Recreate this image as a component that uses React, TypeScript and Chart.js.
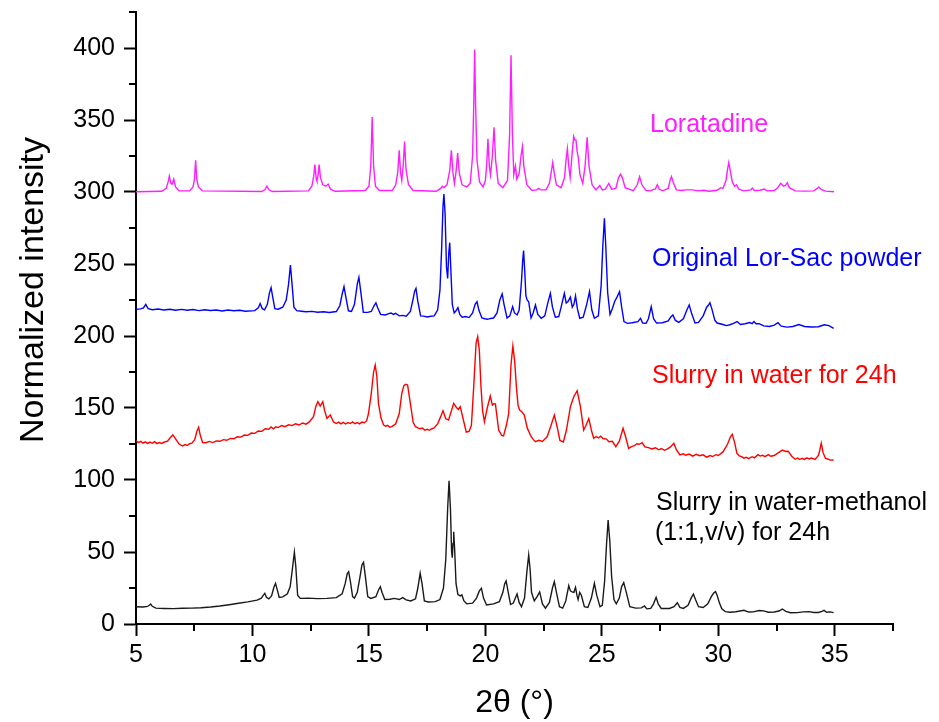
import React, { useEffect, useRef } from 'react';
import { Chart, registerables } from 'chart.js';

Chart.register(...registerables);

// 2θ (°), normalized intensity (offset patterns)
const loratadine: [number, number][] = [
  [5.0,300.2],[6.1,300.5],[6.3,302.5],[6.38,307],[6.43,311],[6.5,306],[6.55,305.5],[6.62,309],[6.7,303.5],[6.85,300.8],
  [7.3,300.8],[7.45,303.5],[7.51,309],[7.56,322],[7.61,309],[7.68,303.5],[7.85,300.8],
  [10.4,300.3],[10.53,301.5],[10.62,304],[10.71,301.5],[10.85,300.3],
  [12.4,300.8],[12.55,304],[12.63,311],[12.68,319],[12.74,309],[12.77,307.5],[12.82,312],[12.86,319],[12.92,310],[13.02,305],[13.15,304],[13.25,305.5],[13.35,302],[13.55,300.5],
  [14.85,301],[15.0,304],[15.08,318],[15.14,352],[15.2,318],[15.28,304],[15.45,301],
  [16.0,301],[16.15,305],[16.24,314],[16.3,329],[16.36,313],[16.41,308],[16.47,318],[16.53,335],[16.59,316],[16.7,305],[16.9,301],
  [17.9,300.5],[18.08,302.5],[18.15,304],[18.22,303],[18.35,305],[18.47,315],[18.54,329],[18.61,313],[18.67,306],[18.74,314],[18.81,327],[18.88,313],[19.0,305],[19.2,303.5],
  [19.35,306],[19.45,325],[19.5,360],[19.54,399],[19.58,360],[19.64,322],[19.75,307],[19.9,303.5],[20.0,308],[20.06,320],[20.11,337],[20.17,318],[20.22,312],[20.3,325],[20.37,345],[20.44,322],[20.55,306],
  [20.75,303],[20.95,308],[21.04,340],[21.1,395],[21.16,340],[21.22,312],[21.29,318],[21.35,309],[21.45,313],[21.53,325],[21.59,331.5],[21.65,318],[21.78,305],[22.0,301],
  [22.2,301.5],[22.29,302.5],[22.38,301.5],[22.6,301.5],[22.75,306],[22.83,314],[22.89,320.5],[22.95,314],[23.05,305],[23.25,303],
  [23.4,310],[23.46,322],[23.52,330],[23.58,318],[23.64,310],[23.72,326],[23.79,338.5],[23.84,336],[23.89,336],[23.94,328],[23.99,324],[24.06,312],[24.18,306],[24.28,318],[24.37,338],[24.45,318],[24.58,305],
  [24.75,301.5],[24.91,304.5],[25.02,301.5],[25.15,302],[25.3,306],[25.42,302],[25.6,302.5],[25.72,310],[25.8,312.3],[25.88,310],[26.0,303],
  [26.35,301],[26.52,305],[26.62,310.6],[26.72,305],[26.9,301],[27.1,300.8],[27.2,301.8],[27.3,302],[27.38,305],[27.46,302],[27.6,300.8],
  [27.85,302.5],[27.93,308],[27.99,310.6],[28.06,307],[28.2,301.5],[28.45,301],[28.6,301.5],[28.9,301.5],[29.1,300.8],[29.38,301.2],[29.6,300.5],
  [29.95,301.2],[30.1,303],[30.2,302.5],[30.33,308],[30.4,316],[30.45,320.4],[30.51,315],[30.6,307],[30.7,304],[30.78,305],[30.88,302],[31.1,300.8],
  [31.4,301.5],[31.46,302.7],[31.55,301],[31.8,301.2],[31.96,302],[32.1,300.8],[32.4,301],[32.55,303],[32.68,306],[32.8,304],[32.88,304.5],[32.96,306.5],[33.05,303],
  [33.3,300.8],[33.7,300.6],[34.1,300.8],[34.25,302.5],[34.32,303.5],[34.4,302],[34.6,300.6],[34.97,300.2]
];

const lorSacPowder: [number, number][] = [
  [5.0,218.6],[5.2,218.8],[5.32,219.5],[5.42,222],[5.52,219],[5.7,218.2],[5.95,218.7],[6.2,218.1],[6.45,218.6],[6.7,217.9],[6.95,218.5],[7.2,217.9],[7.45,218.4],[7.7,217.6],[7.95,218.2],[8.2,217.7],[8.45,218.1],[8.7,217.4],[8.95,218],[9.2,217.5],[9.45,217.9],[9.7,217.2],
  [10.1,217.6],[10.25,219.5],[10.33,222.5],[10.42,219],[10.52,218.2],[10.64,222],[10.73,230],[10.8,233.6],[10.87,227],[10.96,219],[11.1,218.6],
  [11.3,220],[11.45,225],[11.55,236],[11.63,249.3],[11.7,236],[11.78,220],[11.9,217.6],[12.1,217.2],[12.3,216.8],[12.55,217.1],[12.8,216.5],[13.05,216.8],[13.3,216.3],
  [13.6,217],[13.75,221],[13.85,229],[13.93,234.3],[14.01,227],[14.12,217.5],[14.25,217],[14.38,222],[14.5,236],[14.57,240.7],[14.64,232],[14.76,216.5],[14.95,216.4],
  [15.1,217],[15.22,221],[15.3,223.1],[15.38,219.5],[15.5,215],[15.7,214.6],[15.85,215.5],[15.95,216],[16.05,215],[16.15,215.8],[16.3,214],[16.45,214.3],[16.6,213.7],
  [16.78,217],[16.9,226],[16.96,231],[17.02,233.1],[17.1,224],[17.22,214],[17.35,213.8],[17.5,213.2],[17.65,213.7],[17.8,214],
  [17.95,218],[18.05,232],[18.12,260],[18.18,290],[18.22,298.6],[18.27,285],[18.33,248],[18.38,240],[18.43,258],[18.47,264.8],[18.52,245],[18.58,222],[18.66,216],[18.74,217.5],[18.82,219.7],[18.9,215],[19.0,213],
  [19.15,213.5],[19.3,212.8],[19.45,216],[19.56,222],[19.64,223.8],[19.72,218],[19.85,212.5],[19.98,212],[20.1,211.6],[20.22,212.2],[20.35,212.5],[20.5,216],[20.62,225],[20.72,229.2],[20.8,222],[20.93,212.5],
  [21.05,214],[21.17,220.4],[21.25,216],[21.36,214.6],[21.45,218],[21.55,238],[21.6,252],[21.64,259.3],[21.69,245],[21.74,228],[21.79,225],[21.86,223.8],[21.96,212.5],
  [22.05,216],[22.15,221.5],[22.25,215],[22.4,212.3],[22.55,214],[22.68,223],[22.79,229.6],[22.88,220],[23.0,213],[23.15,213.5],[23.28,222],[23.39,229.6],[23.47,223],[23.55,224],[23.65,227],[23.73,220],[23.8,222],[23.87,227.8],[23.95,219],[24.05,212.3],
  [24.2,213],[24.35,222],[24.47,230.8],[24.57,218],[24.68,212.3],[24.85,214],[24.97,235],[25.04,262],[25.11,281.7],[25.17,262],[25.25,230],[25.35,215],[25.45,219],[25.55,224],[25.65,227],[25.76,230.8],[25.85,220],[25.95,210],
  [26.1,208.8],[26.3,209.2],[26.55,210],[26.66,212.3],[26.75,209],[26.9,208.8],[27.0,212],[27.12,220.4],[27.22,212],[27.35,209],[27.6,209.2],[27.85,210.5],[27.95,213],[28.05,214.6],[28.15,211],[28.3,209.5],
  [28.5,212],[28.65,218],[28.75,221.5],[28.85,216],[29.0,209],[29.15,209.5],[29.35,214],[29.5,220],[29.58,221.5],[29.64,223.1],[29.72,219],[29.85,211],[29.95,209],
  [30.2,208],[30.35,207.2],[30.5,207.8],[30.65,208.8],[30.81,210],[30.95,208],[31.15,208.5],[31.35,209.3],[31.45,208.6],[31.53,210],[31.62,208.5],[31.75,208.6],[31.95,207],[32.2,206.6],[32.4,207.6],[32.56,209.2],[32.7,206.8],
  [32.95,206.2],[33.2,206.6],[33.46,208],[33.7,206.6],[34.0,206.2],[34.3,206.4],[34.55,207.8],[34.75,207.2],[34.95,205.3]
];

const slurryWater: [number, number][] = [
  [5.0,127.3],[5.1,126.0],[5.2,126.8],[5.3,125.6],[5.4,126.5],[5.5,125.4],[5.6,126.3],[5.7,125.5],[5.8,126.6],[5.9,125.3],[6.0,126.0],[6.1,125.4],[6.2,126.2],[6.35,127],[6.48,129.5],[6.58,131.3],[6.7,128.5],[6.85,125],[7.0,123.6],[7.1,124.6],[7.2,124.0],[7.3,125.2],[7.4,125.6],
  [7.52,128],[7.62,134],[7.69,136.6],[7.76,131],[7.86,126],[8.0,125.9],[8.15,126.8],[8.3,126.0],[8.45,127.1],[8.6,126.9],[8.75,128.0],[8.9,127.6],[9.05,128.9],[9.2,128.6],[9.35,130.0],[9.5,129.8],[9.65,131.2],[9.8,131.0],[9.95,132.6],[10.1,132.4],[10.25,134.0],[10.4,133.8],[10.55,135.6],[10.7,135.2],[10.8,136.8],[10.9,135.6],
  [11.0,137.0],[11.1,136.4],[11.25,137.8],[11.4,137.0],[11.55,138.4],[11.7,137.8],[11.85,139.0],[12.0,138.2],[12.15,139.6],[12.3,138.8],[12.45,140.5],[12.62,144],[12.72,151],[12.81,154.4],[12.91,151.4],[13.02,154.4],[13.1,148],[13.2,142.8],[13.34,145.1],[13.48,140.3],
  [13.6,139.2],[13.7,140.2],[13.8,139.0],[13.9,140.0],[14.0,138.9],[14.1,139.9],[14.2,139.2],[14.3,140.3],[14.4,139.1],[14.5,139.9],[14.6,139.0],[14.7,140.2],[14.8,139.8],[14.9,141],[14.98,146],[15.1,160],[15.2,175],[15.27,179.9],[15.34,172],[15.41,153],[15.52,143],[15.63,138.2],[15.72,137.4],[15.8,138],[15.9,136.6],[16.0,137.2],
  [16.15,139],[16.3,146],[16.41,160],[16.5,165.5],[16.58,166.5],[16.66,166],[16.78,153],[16.9,140],[17.0,137],[17.1,136.2],[17.2,135.6],[17.3,136.1],[17.4,134.6],[17.5,135.2],[17.6,134.5],[17.7,135.6],[17.8,136.2],
  [17.95,139],[18.08,144],[18.18,148.1],[18.3,142.5],[18.42,141.7],[18.54,148],[18.64,153.2],[18.75,150.5],[18.84,149],[18.92,150.9],[19.05,142],[19.18,133.3],[19.3,133.8],
  [19.4,138],[19.5,165],[19.6,195],[19.67,199.5],[19.74,190],[19.81,165],[19.88,148],[19.96,140.5],[20.08,150],[20.21,158.3],[20.3,152],[20.36,153],[20.43,152.8],[20.57,134.7],[20.7,131],[20.78,130.6],
  [20.9,138],[21.0,146],[21.1,180],[21.18,193.1],[21.26,182],[21.33,165],[21.4,152],[21.47,148.6],[21.57,147.3],[21.67,145.1],[21.8,136],[21.95,130.6],[22.05,128.2],[22.15,126.6],[22.3,127.6],[22.45,126.8],
  [22.65,130],[22.8,137],[22.96,145.1],[23.08,137],[23.2,127.5],[23.35,126.4],[23.48,134.7],[23.65,150.9],[23.8,158],[23.94,162],[24.08,150.9],[24.22,134.7],[24.32,138],[24.44,142.6],[24.56,134],[24.65,129],
  [24.75,130.2],[24.85,129.2],[24.95,130.4],[25.05,128.8],[25.2,128.4],[25.3,126.6],[25.45,126.9],[25.6,123.1],[25.75,127],[25.91,135.9],[26.02,130],[26.15,122],[26.3,123.4],[26.4,123.8],[26.5,125.2],[26.6,124.8],[26.73,125.9],[26.85,123],[27.0,122.5],
  [27.15,121.6],[27.3,122.4],[27.45,121.0],[27.55,121.8],[27.7,120.6],[27.8,121.4],[27.95,123],[28.09,125.5],[28.2,121],[28.35,117.4],[28.5,118.2],[28.6,117.2],[28.75,118.0],[28.9,116.6],[29.05,117.8],[29.2,116.9],[29.35,117.5],[29.5,115.9],[29.65,117.0],[29.75,116.3],[29.9,117.6],[30.0,117.0],
  [30.2,119.5],[30.4,125],[30.52,130],[30.6,131.7],[30.7,126],[30.8,118.5],[30.9,116.8],[31.0,116.2],[31.1,115.2],[31.2,115.8],[31.3,114.8],[31.45,116.2],[31.55,115.4],[31.7,117.6],[31.8,116.6],[31.9,117.2],[32.0,116.2],[32.15,117.6],[32.25,116.5],[32.4,117.0],
  [32.6,119.2],[32.75,120.8],[32.9,119.8],[33.0,120],[33.15,116.5],[33.3,114.4],[33.4,115.3],[33.5,114.2],[33.6,115.1],[33.7,114.3],[33.8,115.4],[33.9,114.6],[34.0,115.2],[34.15,114.3],[34.3,117],[34.36,121],[34.42,125.5],[34.5,119],[34.6,115],[34.7,114.6],[34.8,113.8],[34.95,113.9]
];

const slurryWaterMethanol: [number, number][] = [
  [5.0,12],[5.3,11.8],[5.5,12.2],[5.58,13.2],[5.63,13.9],[5.7,12.3],[5.85,11],[6.2,10.8],[6.6,10.7],[7.0,10.9],[7.4,11],[7.8,11.3],[8.2,11.8],[8.6,12.5],[9.0,13.4],[9.4,14.4],[9.8,15.4],[10.2,16.6],
  [10.38,18],[10.47,20],[10.53,21.3],[10.6,18.5],[10.7,17.4],[10.82,19.5],[10.92,25.5],[10.99,28.2],[11.06,24],[11.15,18.5],[11.3,18.8],[11.5,21],[11.62,26],[11.72,39],[11.8,49.8],[11.86,40],[11.94,20],[12.05,17.8],
  [12.4,18],[12.8,17.6],[13.2,17.8],[13.6,18.3],[13.85,21],[13.98,28],[14.07,35],[14.13,36.3],[14.2,30],[14.3,19],[14.38,18],[14.5,22],[14.62,33],[14.7,41],[14.77,42.8],[14.84,34],[14.95,19],[15.08,17.8],
  [15.3,19],[15.42,24],[15.49,25.9],[15.56,22],[15.68,17],[15.9,17.2],[16.1,17.8],[16.3,17],[16.45,18.3],[16.6,16.8],[16.8,16],[17.0,17.5],[17.1,25],[17.2,35.2],[17.28,28],[17.38,16],[17.55,15.3],[17.85,15.5],
  [18.05,17],[18.2,25],[18.3,45],[18.38,80],[18.44,99.5],[18.5,80],[18.55,50],[18.58,46],[18.61,56],[18.64,64.1],[18.68,52],[18.74,28],[18.82,20.5],[18.92,19.5],[18.99,20.2],[19.08,16],[19.2,14],
  [19.45,14.5],[19.62,18],[19.74,23],[19.83,24.8],[19.92,18],[20.05,13.2],[20.35,14],[20.6,15.5],[20.75,22],[20.83,28],[20.89,29.9],[20.97,23],[21.08,13.5],[21.2,14.5],[21.3,18.5],[21.36,20.8],[21.45,15],[21.55,12],
  [21.68,18],[21.78,36],[21.86,47.9],[21.92,38],[21.98,22],[22.1,16],[22.22,19],[22.33,22.3],[22.45,14],[22.58,11],[22.75,15],[22.88,25],[22.96,29.4],[23.05,22],[23.18,12],[23.32,11],
  [23.45,16],[23.58,26.6],[23.65,23],[23.72,22.3],[23.8,22],[23.87,25.5],[23.93,20],[23.98,17],[24.05,22],[24.12,20],[24.25,12],[24.4,11.5],[24.55,18],[24.68,28.2],[24.78,20],[24.92,12],
  [25.02,13],[25.12,30],[25.2,55],[25.27,72.2],[25.34,58],[25.42,33],[25.52,17],[25.62,14],[25.75,18],[25.85,26],[25.94,28.7],[26.05,22],[26.2,12],[26.45,11],[26.7,11.2],[26.83,12.5],[26.93,10.5],
  [27.1,10.8],[27.22,14],[27.33,18.5],[27.42,14],[27.55,10.8],[27.9,10.8],[28.1,12],[28.24,14.8],[28.35,11.5],[28.5,10.8],[28.7,13],[28.85,18.5],[28.93,20.8],[29.02,17],[29.15,12],[29.35,11.5],
  [29.55,14],[29.7,19],[29.8,21.5],[29.88,22.5],[29.95,20],[30.05,14.5],[30.15,10.5],[30.3,8.6],[30.5,8.2],[30.75,8.5],[31.1,9.5],[31.3,8.3],[31.5,8.4],[31.75,9.4],[31.95,9.1],[32.15,8.2],
  [32.4,8.3],[32.6,9],[32.75,10.4],[32.9,8.8],[33.1,7.8],[33.4,7.9],[33.65,8.4],[33.9,8.6],[34.1,8],[34.3,8],[34.45,8.8],[34.54,9.5],[34.65,8.2],[34.8,8.4],[34.95,7.9]
];

const xMajorTicks = [5, 10, 15, 20, 25, 30, 35];
const xMinorTicks = [7.5, 12.5, 17.5, 22.5, 27.5, 32.5, 37.5];
const yMajorTicks = [0, 50, 100, 150, 200, 250, 300, 350, 400];
const yMinorTicks = [25, 75, 125, 175, 225, 275, 325, 375, 425];

const seriesNames = ['Loratadine', 'Original Lor-Sac powder', 'Slurry in water for 24h', 'Slurry in water-methanol (1:1,v/v) for 24h'];
const seriesColors = ['#ff1eff', '#0000ff', '#ff0000', '#1a1a1a'];

const FONT = '"Liberation Sans", Arial, Helvetica, sans-serif';

const overlayPlugin = {
  id: 'overlay',
  afterDraw(chart: any) {
    const { ctx, chartArea } = chart;
    const x = chart.scales.x;
    const y = chart.scales.y;
    ctx.save();
    // minor ticks
    ctx.strokeStyle = '#000';
    ctx.lineWidth = 2;
    ctx.beginPath();
    xMinorTicks.forEach((v) => {
      const px = Math.round(x.getPixelForValue(v));
      ctx.moveTo(px, chartArea.bottom);
      ctx.lineTo(px, chartArea.bottom + 7);
    });
    yMinorTicks.forEach((v) => {
      const py = Math.round(y.getPixelForValue(v));
      ctx.moveTo(chartArea.left, py);
      ctx.lineTo(chartArea.left - 7, py);
    });
    ctx.stroke();

    // axis titles
    ctx.fillStyle = '#000';
    ctx.font = `32px ${FONT}`;
    ctx.textAlign = 'center';
    ctx.textBaseline = 'alphabetic';
    ctx.fillText('2θ (°)', (chartArea.left + chartArea.right) / 2, 712);
    ctx.save();
    ctx.font = `34px ${FONT}`;
    ctx.translate(43, 290);
    ctx.rotate(-Math.PI / 2);
    ctx.fillText('Normalized intensity', 0, 0);
    ctx.restore();

    // series annotations
    ctx.font = `25px ${FONT}`;
    ctx.textAlign = 'left';
    ctx.fillStyle = seriesColors[0];
    ctx.fillText(seriesNames[0], 650, 132);
    ctx.fillStyle = seriesColors[1];
    ctx.fillText(seriesNames[1], 652, 266);
    ctx.fillStyle = seriesColors[2];
    ctx.fillText(seriesNames[2], 652, 383);
    ctx.fillStyle = '#000';
    ctx.fillText('Slurry in water-methanol', 656, 510);
    ctx.fillText('(1:1,v/v) for 24h', 655, 540);
    ctx.restore();
  },
};

export default function App() {
  const canvasRef = useRef<HTMLCanvasElement | null>(null);

  useEffect(() => {
    document.body.style.margin = '0';
    const canvas = canvasRef.current;
    if (!canvas) return;
    const all = [loratadine, lorSacPowder, slurryWater, slurryWaterMethanol];
    const chart = new Chart(canvas, {
      type: 'line',
      data: {
        datasets: all.map((arr, i) => ({
          label: seriesNames[i],
          data: arr.map(([a, b]) => ({ x: a, y: b })),
          borderColor: seriesColors[i],
          backgroundColor: seriesColors[i],
          borderWidth: 1.4,
          pointRadius: 0,
          tension: 0,
          fill: false,
        })),
      },
      options: {
        animation: false,
        responsive: false,
        maintainAspectRatio: false,
        layout: { padding: { left: 0, right: 46, top: 12, bottom: 0 } },
        plugins: {
          legend: { display: false },
          tooltip: { enabled: false },
          title: { display: false },
        },
        scales: {
          x: {
            type: 'linear',
            min: 5,
            max: 37.5,
            afterBuildTicks: (s: any) => {
              s.ticks = xMajorTicks.map((v) => ({ value: v }));
            },
            afterFit: (s: any) => {
              s.height = 98;
              s.paddingLeft = 0;
              s.paddingRight = 0;
            },
            ticks: {
              color: '#000',
              font: { family: FONT, size: 25 },
              padding: 4,
              maxRotation: 0,
              autoSkip: false,
              callback: (v: any) => String(v),
            },
            grid: {
              display: true,
              drawOnChartArea: false,
              drawTicks: true,
              tickLength: 12,
              tickWidth: 2,
              tickColor: '#000',
            },
            border: { display: true, color: '#000', width: 2 },
          },
          y: {
            type: 'linear',
            min: 0,
            max: 425,
            afterBuildTicks: (s: any) => {
              s.ticks = yMajorTicks.map((v) => ({ value: v }));
            },
            afterFit: (s: any) => {
              s.width = 136;
              s.paddingTop = 0;
              s.paddingBottom = 0;
            },
            ticks: {
              color: '#000',
              font: { family: FONT, size: 25 },
              padding: 9,
              autoSkip: false,
              callback: (v: any) => String(v),
            },
            grid: {
              display: true,
              drawOnChartArea: false,
              drawTicks: true,
              tickLength: 12,
              tickWidth: 2,
              tickColor: '#000',
            },
            border: { display: true, color: '#000', width: 2 },
          },
        },
      },
      plugins: [overlayPlugin],
    });
    return () => chart.destroy();
  }, []);

  return (
    <div style={{ position: 'fixed', left: 0, top: 0, width: 939, height: 722, background: '#fff' }}>
      <canvas ref={canvasRef} width={939} height={722} style={{ display: 'block', width: 939, height: 722 }} />
    </div>
  );
}
